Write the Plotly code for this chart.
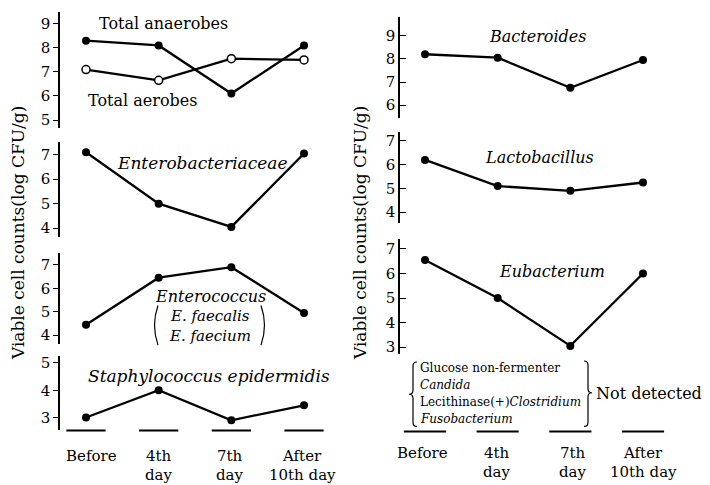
import plotly.graph_objects as go

# ---------------- data ----------------
days = ["Before", "4th day", "7th day", "After 10th day"]
day_label_top = ["Before", "4th", "7th", "After"]
day_label_bottom = ["", "day", "day", "10th day"]

total_anaerobes = [8.3, 8.1, 6.1, 8.1]
total_aerobes = [7.1, 6.65, 7.55, 7.5]
enterobacteriaceae = [7.1, 5.0, 4.05, 7.05]
enterococcus = [4.45, 6.45, 6.9, 4.95]
staphylococcus = [3.0, 4.0, 2.9, 3.45]
bacteroides = [8.2, 8.05, 6.75, 7.95]
lactobacillus = [6.2, 5.1, 4.9, 5.25]
eubacterium = [6.55, 5.0, 3.05, 6.0]

ticks_total = [5, 6, 7, 8, 9]
ticks_entero = [4, 5, 6, 7]
ticks_coccus = [4, 5, 6, 7]
ticks_staph = [3, 4, 5]
ticks_bact = [6, 7, 8, 9]
ticks_lacto = [4, 5, 6, 7]
ticks_eubac = [3, 4, 5, 6, 7]
ticks_nd = [3, 4, 5]

not_detected = ["Glucose non-fermenter", "<i>Candida</i>",
                "Lecithinase(+)<i>Clostridium</i>", "<i>Fusobacterium</i>"]

# ---------------- geometry helpers ----------------
W, H = 710, 485
SERIF = "DejaVu Serif"


def px(x):
    return x / W


def py(y):
    return 1 - y / H


def yrange(top, bot, t_hi, p_hi, t_lo, p_lo):
    s = (p_lo - p_hi) / (t_hi - t_lo)
    return [t_lo - (bot - p_lo) / s, t_hi + (p_hi - top) / s]


fig = go.Figure()
layout = dict(width=W, height=H, margin=dict(l=0, r=0, t=0, b=0),
              paper_bgcolor="white", plot_bgcolor="white", showlegend=False,
              font=dict(family=SERIF, color="black"))

# panels: (axis id, xaxis, top px, bottom px, tick hi/px, tick lo/px, ticks, side)
panels = [
    ("y", "x", 10, 127, (9, 22), (5, 119), ticks_total, "outside"),
    ("y2", "x", 141, 237, (7, 154), (4, 228), ticks_entero, "outside"),
    ("y3", "x", 253, 345, (7, 265), (4, 336), ticks_coccus, "outside"),
    ("y4", "x", 357, 432, (5, 364), (3, 419), ticks_staph, "outside"),
    ("y5", "x2", 15, 117, (9, 34), (6, 104), ticks_bact, "inside"),
    ("y6", "x2", 131, 223, (7, 140), (4, 212), ticks_lacto, "inside"),
    ("y7", "x2", 239, 355, (7, 249), (3, 348), ticks_eubac, "inside"),
    ("y8", "x2", 362, 430, (5, 373), (3, 422), ticks_nd, "inside"),
]
for key, xa, top, bot, hi, lo, tv, side in panels:
    name = "yaxis" if key == "y" else "yaxis" + key[1:]
    layout[name] = dict(
        domain=[py(bot), py(top)], anchor=xa,
        range=yrange(top, bot, hi[0], hi[1], lo[0], lo[1]),
        tickvals=tv, ticks=side, ticklen=5 if side == "outside" else 6,
        tickwidth=1.3, tickcolor="black",
        showline=True, linecolor="black", linewidth=1.5,
        showgrid=False, zeroline=False,
        tickfont=dict(family=SERIF, size=15, color="black"),
    )

step = 72.67
layout["xaxis"] = dict(domain=[px(60), px(340)], anchor="y4", type="category",
                       categoryarray=days,
                       range=[(60 - 86) / step, (340 - 86) / step],
                       visible=False)
layout["xaxis2"] = dict(domain=[px(400), px(700)], anchor="y8", type="category",
                        categoryarray=days,
                        range=[(400 - 425) / step, (700 - 425) / step],
                        visible=False)

line = dict(color="black", width=2.3)
filled = dict(color="black", size=8)


def add(values, xa, ya, marker=filled):
    fig.add_trace(go.Scatter(x=days, y=values, xaxis=xa, yaxis=ya,
                             mode="lines+markers", line=line, marker=marker,
                             hoverinfo="x+y"))


add(total_anaerobes, "x", "y")
add(total_aerobes, "x", "y",
    marker=dict(color="white", size=8, line=dict(color="black", width=1.5)))
add(enterobacteriaceae, "x", "y2")
add(enterococcus, "x", "y3")
add(staphylococcus, "x", "y4")
add(bacteroides, "x2", "y5")
add(lactobacillus, "x2", "y6")
add(eubacterium, "x2", "y7")

shapes = []
# baseline dashes under each day
for i in range(len(days)):
    shapes.append(dict(type="line", xref="x", yref="paper",
                       x0=i - 0.27, x1=i + 0.27, y0=py(432), y1=py(432),
                       line=dict(color="black", width=2)))
    shapes.append(dict(type="line", xref="x2", yref="paper",
                       x0=i - 0.29, x1=i + 0.29, y0=py(433), y1=py(433),
                       line=dict(color="black", width=2)))


def P(x, y):
    return f"{px(x):.5f},{py(y):.5f}"


def paren(x_end, x_bulge, top, bot):
    mid = (top + bot) / 2
    return f"M {P(x_end, top)} Q {P(x_bulge, mid)} {P(x_end, bot)}"


def brace(x, top, bot, d, w=4, mid=None):
    if mid is None:
        mid = (top + bot) / 2
    return (f"M {P(x - d * w, top)} Q {P(x, top)} {P(x, top + w)} "
            f"L {P(x, mid - w)} Q {P(x, mid)} {P(x + d * w, mid)} "
            f"Q {P(x, mid)} {P(x, mid + w)} L {P(x, bot - w)} "
            f"Q {P(x, bot)} {P(x - d * w, bot)}")


thin = dict(color="black", width=1.2)
shapes.append(dict(type="path", xref="paper", yref="paper",
                   path=paren(158, 151, 306, 346), line=thin))
shapes.append(dict(type="path", xref="paper", yref="paper",
                   path=paren(261, 268, 306, 346), line=thin))
shapes.append(dict(type="path", xref="paper", yref="paper",
                   path=brace(413, 363, 428, -1), line=thin))
shapes.append(dict(type="path", xref="paper", yref="paper",
                   path=brace(588, 362, 428, 1, mid=394), line=thin))
layout["shapes"] = shapes

ann = []


def text(t, x, y, size=16, italic=False, xanchor="left", angle=0):
    ann.append(dict(text=f"<i>{t}</i>" if italic else t, x=px(x), y=py(y),
                    xref="paper", yref="paper", xanchor=xanchor,
                    yanchor="middle", showarrow=False, textangle=angle,
                    font=dict(family=SERIF, size=size, color="black")))


text("Total anaerobes", 97, 22)
text("Total aerobes", 86, 99)
text("Enterobacteriaceae", 115, 162, size=17, italic=True)
text("Enterococcus", 210, 297, italic=True, xanchor="center")
text("E. faecalis", 210, 317, size=15, italic=True, xanchor="center")
text("E. faecium", 210, 337, size=15, italic=True, xanchor="center")
text("Staphylococcus epidermidis", 86, 377, size=17, italic=True)
text("Bacteroides", 487, 35, italic=True)
text("Lactobacillus", 483, 157, italic=True)
text("Eubacterium", 497, 272, italic=True)
for j, t in enumerate(not_detected):
    text(t, 418, 369 + 17 * j, size=12)
text("Not detected", 594, 395, size=16)

text("Viable cell counts(log CFU/g)", 18, 233, size=17,
     xanchor="center", angle=-90)
text("Viable cell counts(log CFU/g)", 360, 233, size=17,
     xanchor="center", angle=-90)

# x category labels
left_x = [91, 159, 230, 302]
right_x = [422, 497, 573, 643]
for i in range(len(days)):
    text(day_label_top[i], left_x[i], 458, size=15, xanchor="center")
    text(day_label_bottom[i], left_x[i], 477, size=15, xanchor="center")
    text(day_label_top[i], right_x[i], 455, size=15, xanchor="center")
    text(day_label_bottom[i], right_x[i], 474, size=15, xanchor="center")
layout["annotations"] = ann

fig.update_layout(**layout)
fig.write_html("out.html")
